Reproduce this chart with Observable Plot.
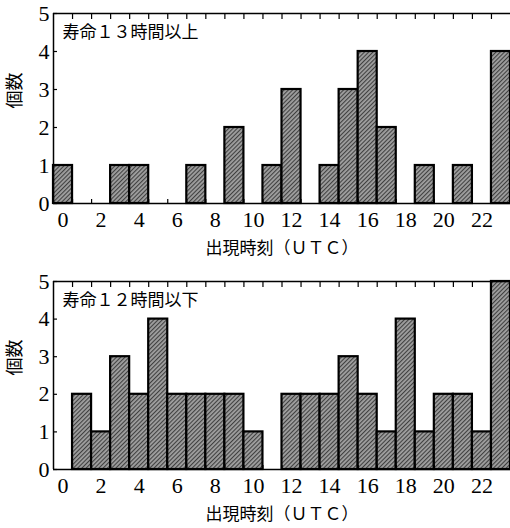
<!DOCTYPE html>
<html>
<head>
<meta charset="utf-8">
<script src="https://cdn.jsdelivr.net/npm/d3@7"></script>
<script src="https://cdn.jsdelivr.net/npm/@observablehq/plot@0.6"></script>
<style>
  body { margin: 0; background: #fff; }
  #chart { width: 510px; }
  svg { display: block; overflow: hidden; }
</style>
</head>
<body>
<div id="chart"></div>
<script>
const hours = d3.range(0, 24);
const longLived = [1,0,0,1,1,0,0,1,0,2,0,1,3,0,1,3,4,2,0,1,0,1,0,4];
const shortLived = [0,2,1,3,2,4,2,2,2,2,1,0,2,2,2,3,2,1,4,1,2,2,1,5];
const panelTitles = ["寿命１３時間以上", "寿命１２時間以下"];
const xTickLabels = [0,2,4,6,8,10,12,14,16,18,20,22];
const yTickLabels = [0,1,2,3,4,5];
const yLabel = "個数";
const xLabel = "出現時刻（ＵＴＣ）";

const binEdges = d3.range(0.5, 23.5, 1);
const serif = "'Liberation Serif', 'Times New Roman', serif";
const cjk = "'Noto Sans CJK JP', sans-serif";

function panel(values, title, idx, height, mTop, mBottom) {
  const data = hours.map((h, i) => ({hour: h, n: values[i]}));
  const pid = "hatch" + idx;
  const svg = Plot.plot({
    width: 510,
    height,
    marginLeft: 53,
    marginRight: 0,
    marginTop: mTop,
    marginBottom: mBottom,
    style: {background: "#fff", overflow: "hidden"},
    x: {domain: [-0.5, 23.5]},
    y: {domain: [0, 5]},
    marks: [
      Plot.rectY(data.filter(d => d.n > 0), {
        x1: d => d.hour - 0.5, x2: d => d.hour + 0.5, y1: 0, y2: "n",
        fill: `url(#${pid})`, stroke: "#000", strokeWidth: 2.2
      }),
      Plot.ruleY([0], {stroke: "#000", strokeWidth: 1.5}),
      Plot.ruleY([5], {stroke: "#000", strokeWidth: 1.5}),
      Plot.ruleX([-0.5], {stroke: "#000", strokeWidth: 1.5}),
      Plot.axisX({anchor: "top", ticks: binEdges, tickSize: -5, tickFormat: () => "", strokeWidth: 1.2, label: null}),
      Plot.axisX({anchor: "bottom", ticks: binEdges, tickSize: -4, tickFormat: () => "", strokeWidth: 1.2, label: null}),
      Plot.axisX({anchor: "bottom", ticks: xTickLabels, tickSize: 0, tickPadding: 8, tickFormat: d3.format("d"),
        fontSize: 22, label: null, fill: "#000", ariaLabel: "x-labels"}),
      Plot.axisY({anchor: "left", ticks: yTickLabels, tickSize: -4, tickPadding: 8, strokeWidth: 1.2,
        tickFormat: d3.format("d"), fontSize: 22, label: null, fill: "#000"}),
      Plot.text([yLabel], {frameAnchor: "left", rotate: -90, dx: -38, fontSize: 18, fill: "#000"}),
      Plot.text([xLabel], {frameAnchor: "bottom", dy: 50, fontSize: 17, fill: "#000"}),
      Plot.text([title], {frameAnchor: "top-left", dx: 9, dy: 12, textAnchor: "start",
        fontSize: 17, fill: "#000"})
    ]
  });
  d3.select(svg).selectAll("text").each(function() {
    const t = this.textContent.trim();
    this.style.fontFamily = /^\d+$/.test(t) ? serif : cjk;
  });
  d3.select(svg).selectAll("g[aria-label='x-labels'] text").each(function() {
    const tr = this.getAttribute("transform") || "";
    this.setAttribute("transform", tr + " scale(0.78,1)");
  });
  const defs = d3.select(svg).insert("defs", ":first-child");
  const p = defs.append("pattern").attr("id", pid).attr("patternUnits", "userSpaceOnUse")
    .attr("width", 3).attr("height", 3).attr("patternTransform", "rotate(45)");
  p.append("rect").attr("width", 3).attr("height", 3).attr("fill", "#a0a0a0");
  p.append("rect").attr("width", 1.1).attr("height", 3).attr("fill", "#404040");
  return svg;
}

const root = document.getElementById("chart");
root.appendChild(panel(longLived, panelTitles[0], 0, 265, 13, 62));
root.appendChild(panel(shortLived, panelTitles[1], 1, 263, 16, 59));
</script>
</body>
</html>
